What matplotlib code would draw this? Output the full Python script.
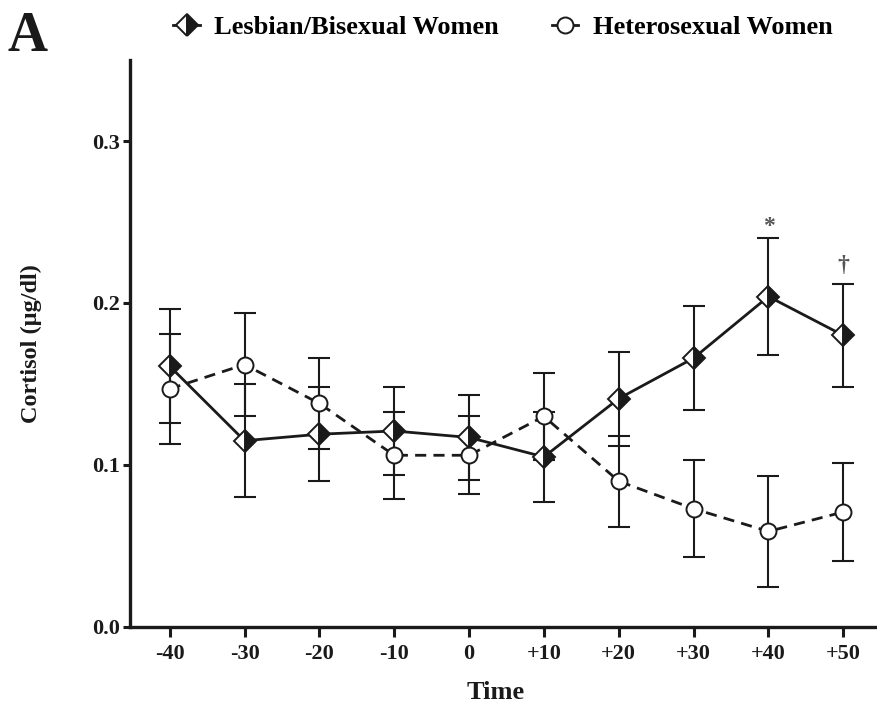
import matplotlib
matplotlib.use("Agg")
import matplotlib.pyplot as plt
from matplotlib.lines import Line2D

# Salivary cortisol over time, group means with error bars
time = [-40, -30, -20, -10, 0, 10, 20, 30, 40, 50]
time_labels = ["-40", "-30", "-20", "-10", "0", "+10", "+20", "+30", "+40", "+50"]

lb_mean = [0.161, 0.115, 0.119, 0.121, 0.117, 0.105, 0.141, 0.166, 0.204, 0.180]
lb_err = [0.035, 0.035, 0.029, 0.027, 0.026, 0.028, 0.029, 0.032, 0.036, 0.032]

het_mean = [0.147, 0.162, 0.138, 0.106, 0.106, 0.130, 0.090, 0.073, 0.059, 0.071]
het_err = [0.034, 0.032, 0.028, 0.027, 0.024, 0.027, 0.028, 0.030, 0.034, 0.030]

y_ticks = [0.0, 0.1, 0.2, 0.3]
y_tick_labels = ["0.0", "0.1", "0.2", "0.3"]

# significance marks above the lesbian/bisexual error bars
sig_times = [40, 50]
sig_marks = ["*", "\u2020"]
sig_y = [0.247, 0.223]

plt.rcParams["font.family"] = ["Liberation Serif", "DejaVu Serif"]
plt.rcParams["font.weight"] = "bold"

W, H = 877, 713
fig = plt.figure(figsize=(W / 100, H / 100), dpi=100)
ax = fig.add_axes([130 / W, 86 / H, 1 - 130 / W, (627 - 60) / H])

ink = "#1a1a1a"
cap = 8.2

# error bars underneath everything
ax.errorbar(time, het_mean, yerr=het_err, fmt="none", ecolor=ink,
            elinewidth=1.5, capsize=cap, capthick=1.5, zorder=2)
ax.errorbar(time, lb_mean, yerr=lb_err, fmt="none", ecolor=ink,
            elinewidth=1.5, capsize=cap, capthick=1.5, zorder=2)

# connecting lines
ax.plot(time, het_mean, color=ink, lw=2.0, ls=(0, (4, 2.6)), zorder=3)
ax.plot(time, lb_mean, color=ink, lw=2.0, ls="-", zorder=3)

# markers on top
ax.plot(time, het_mean, ls="none", marker="o", ms=11.5, mfc="white",
        mec=ink, mew=1.4, zorder=4)
ax.plot(time, lb_mean, ls="none", marker="D", ms=11.5, fillstyle="right",
        mfc=ink, markerfacecoloralt="white", mec=ink, mew=1.4, zorder=5)

for t, m, y in zip(sig_times, sig_marks, sig_y):
    ax.text(t, y, m, ha="center", va="center", fontsize=17,
            color="#555555", fontweight="bold")

ax.set_xlim(-45.3, 54.5)
ax.set_ylim(0, 0.35)
ax.set_xticks(time)
ax.set_xticklabels(time_labels)
ax.set_yticks(y_ticks)
ax.set_yticklabels(y_tick_labels)

for s in ("top", "right"):
    ax.spines[s].set_visible(False)
for s in ("left", "bottom"):
    ax.spines[s].set_linewidth(2.4)
    ax.spines[s].set_color(ink)

ax.tick_params(axis="x", direction="out", length=7, width=2.2, pad=5,
               labelsize=16, colors=ink)
ax.tick_params(axis="y", direction="out", length=5, width=2.2, pad=2,
               labelsize=16, colors=ink)

ax.set_xlabel("Time", fontsize=19, fontweight="bold", color=ink)
ax.xaxis.set_label_coords(0.489, -0.095)
ax.set_ylabel("Cortisol (\u00b5g/dl)", fontsize=17.5, fontweight="bold", color=ink)
ax.yaxis.set_label_coords(-0.118, 0.5)

fig.text(8 / W, 1 - 51 / H, "A", fontsize=40, fontweight="bold",
         color=ink, va="baseline", ha="left")

h_lb = Line2D([], [], color=ink, lw=2.0, marker="D", ms=11.5, fillstyle="right",
              mfc=ink, markerfacecoloralt="white", mec=ink, mew=1.4)
h_het = Line2D([], [], color=ink, lw=2.0, marker="o", ms=11.5, mfc="white",
               mec=ink, mew=1.4)
fig.legend([h_lb, h_het], ["Lesbian/Bisexual Women", "Heterosexual Women"],
           loc="center", bbox_to_anchor=(0.5735, 0.962), ncol=2, frameon=False,
           fontsize=19, handlelength=1.0, handletextpad=0.55, columnspacing=2.0,
           numpoints=1)

fig.savefig("out.png", dpi=100)
